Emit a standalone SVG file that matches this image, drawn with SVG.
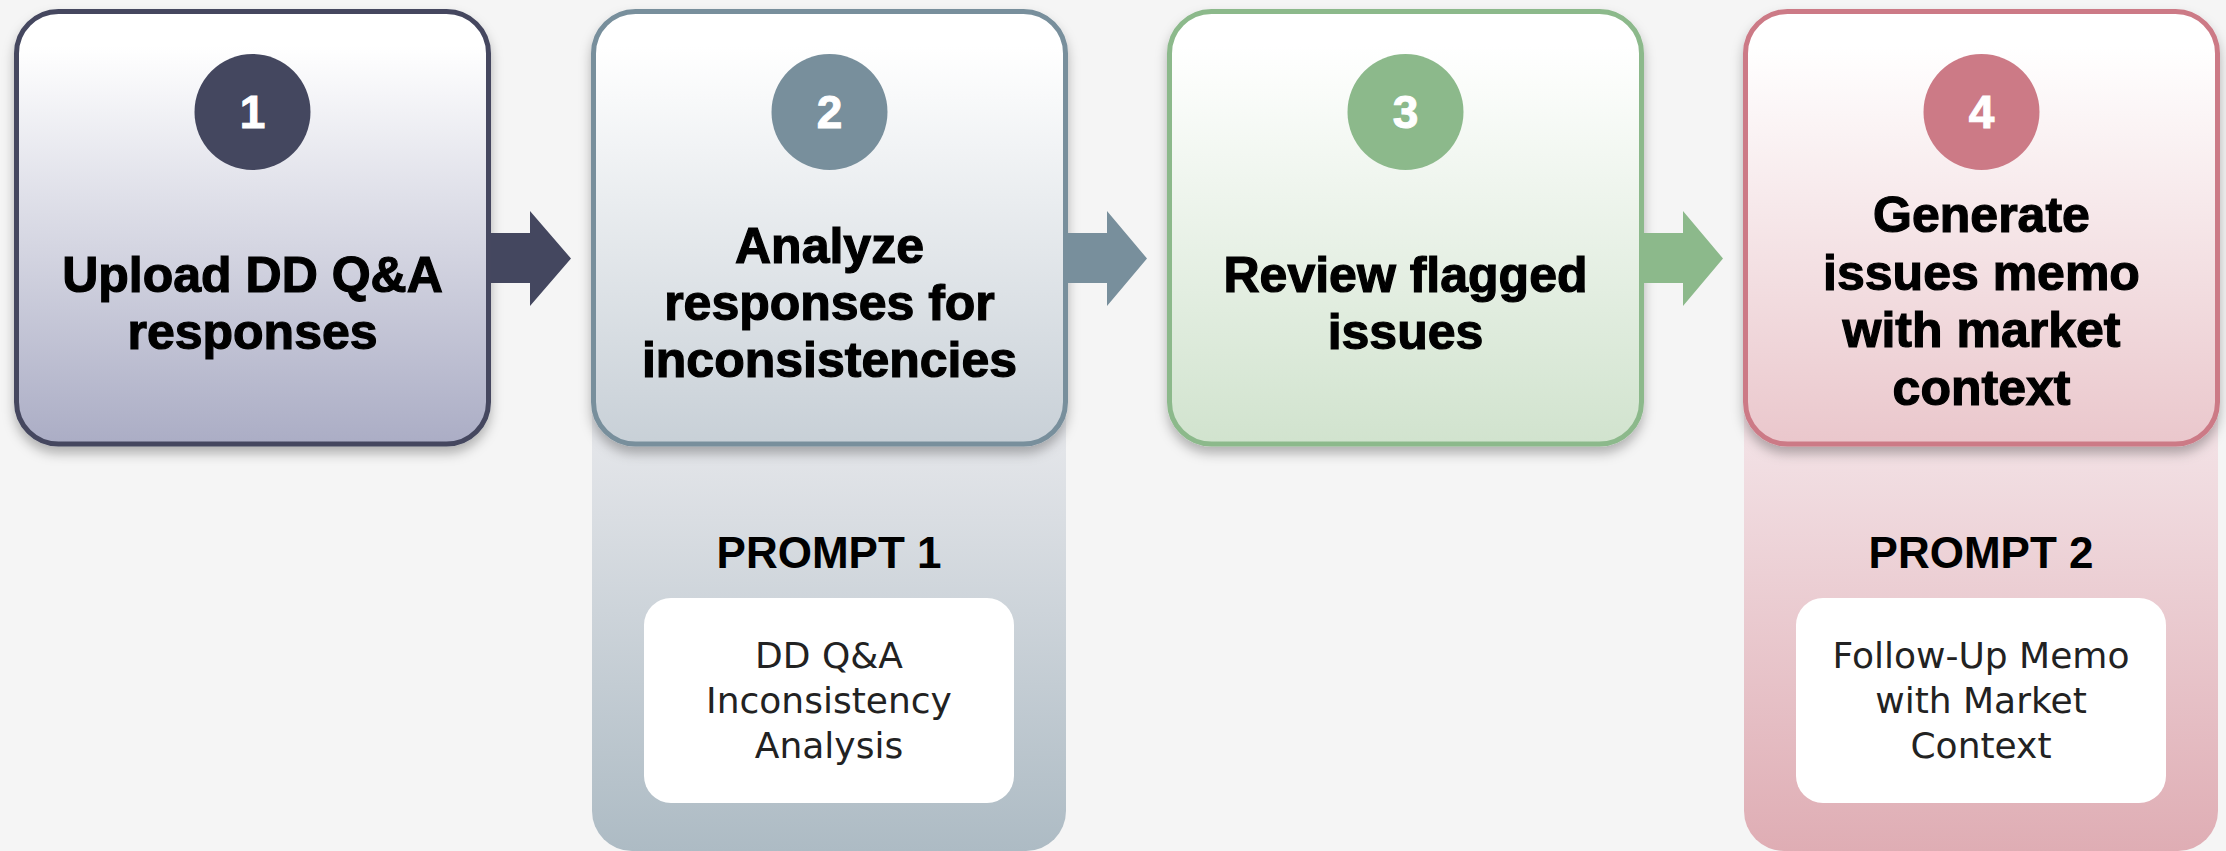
<svg xmlns="http://www.w3.org/2000/svg" width="2226" height="851" viewBox="0 0 2226 851">
<defs>
<linearGradient id="g1" x1="0" y1="0" x2="0" y2="1"><stop offset="0.08" stop-color="#ffffff"/><stop offset="1" stop-color="#abadc5"/></linearGradient>
<linearGradient id="g2" x1="0" y1="0" x2="0" y2="1"><stop offset="0.08" stop-color="#ffffff"/><stop offset="1" stop-color="#c8d0d7"/></linearGradient>
<linearGradient id="g3" x1="0" y1="0" x2="0" y2="1"><stop offset="0.08" stop-color="#ffffff"/><stop offset="1" stop-color="#d1e3ce"/></linearGradient>
<linearGradient id="g4" x1="0" y1="0" x2="0" y2="1"><stop offset="0.08" stop-color="#ffffff"/><stop offset="1" stop-color="#eac7cc"/></linearGradient>
<linearGradient id="p2" gradientUnits="userSpaceOnUse" x1="0" y1="446" x2="0" y2="851"><stop offset="0" stop-color="#e3e5e9"/><stop offset="1" stop-color="#adbbc4"/></linearGradient>
<linearGradient id="p4" gradientUnits="userSpaceOnUse" x1="0" y1="446" x2="0" y2="851"><stop offset="0" stop-color="#f2e0e4"/><stop offset="1" stop-color="#dfadb4"/></linearGradient>
<filter id="sh" x="-10%" y="-10%" width="120%" height="125%"><feDropShadow dx="0" dy="7" stdDeviation="6" flood-color="#000" flood-opacity="0.28"/></filter>
</defs>
<style>
.box{stroke-width:5}
.title{font-family:"Liberation Sans",Arial,sans-serif;font-weight:700;font-size:50px;fill:#000;stroke:#000;stroke-width:1.2px;text-anchor:middle}
.num{font-family:"Liberation Sans",Arial,sans-serif;font-weight:700;font-size:46px;fill:#fff;stroke:#fff;stroke-width:1px;text-anchor:middle}
.plabel{font-family:"Liberation Sans",Arial,sans-serif;font-weight:700;font-size:44px;fill:#000;text-anchor:middle}
.ptext{font-family:"DejaVu Sans","Liberation Sans",sans-serif;font-size:36px;fill:#222;text-anchor:middle}
</style>
<rect width="2226" height="851" fill="#f5f5f5"/>

<g id="panel2">
<path d="M592,200 H1066 V811 A40,40 0 0 1 1026,851 H632 A40,40 0 0 1 592,811 Z" fill="url(#p2)"/>
<text class="plabel" x="829" y="568">PROMPT 1</text>
<rect x="644" y="598" width="370" height="205" rx="27" fill="#ffffff"/>
<text class="ptext" x="829" y="668">DD Q&amp;A</text>
<text class="ptext" x="829" y="713">Inconsistency</text>
<text class="ptext" x="829" y="758">Analysis</text>
</g>
<g id="panel4">
<path d="M1744,200 H2218 V811 A40,40 0 0 1 2178,851 H1784 A40,40 0 0 1 1744,811 Z" fill="url(#p4)"/>
<text class="plabel" x="1981" y="568">PROMPT 2</text>
<rect x="1796" y="598" width="370" height="205" rx="27" fill="#ffffff"/>
<text class="ptext" x="1981" y="668">Follow-Up Memo</text>
<text class="ptext" x="1981" y="713">with Market</text>
<text class="ptext" x="1981" y="758">Context</text>
</g>

<g id="step1">
<rect class="box" x="16.5" y="11.5" width="472" height="432.5" rx="42" fill="url(#g1)" stroke="#44475f" filter="url(#sh)"/>
<circle cx="252.5" cy="112" r="58" fill="#44475f"/>
<text class="num" x="252.5" y="128">1</text>
<text class="title" x="252.5" y="292">Upload DD Q&amp;A</text>
<text class="title" x="252.5" y="349">responses</text>
</g>
<g id="step2">
<rect class="box" x="593.5" y="11.5" width="472" height="432.5" rx="42" fill="url(#g2)" stroke="#788f9c" filter="url(#sh)"/>
<circle cx="829.5" cy="112" r="58" fill="#788f9c"/>
<text class="num" x="829.5" y="128">2</text>
<text class="title" x="829.5" y="263">Analyze</text>
<text class="title" x="829.5" y="320">responses for</text>
<text class="title" x="829.5" y="377">inconsistencies</text>
</g>
<g id="step3">
<rect class="box" x="1169.5" y="11.5" width="472" height="432.5" rx="42" fill="url(#g3)" stroke="#8cb98b" filter="url(#sh)"/>
<circle cx="1405.5" cy="112" r="58" fill="#8cb98b"/>
<text class="num" x="1405.5" y="128">3</text>
<text class="title" x="1405.5" y="292">Review flagged</text>
<text class="title" x="1405.5" y="349">issues</text>
</g>
<g id="step4">
<rect class="box" x="1745.5" y="11.5" width="472" height="432.5" rx="42" fill="url(#g4)" stroke="#cc7a86" filter="url(#sh)"/>
<circle cx="1981.5" cy="112" r="58" fill="#cc7a86"/>
<text class="num" x="1981.5" y="128">4</text>
<text class="title" x="1981.5" y="232">Generate</text>
<text class="title" x="1981.5" y="290">issues memo</text>
<text class="title" x="1981.5" y="347">with market</text>
<text class="title" x="1981.5" y="405">context</text>
</g>

<g id="connectors">
<path d="M491,233 H530 V211 L571,258.5 L530,306 V283 H491 Z" fill="#44475f"/>
<path d="M1068,233 H1107 V211 L1147,258.5 L1107,306 V283 H1068 Z" fill="#788f9c"/>
<path d="M1644,233 H1683 V211 L1723,258.5 L1683,306 V283 H1644 Z" fill="#8cb98b"/>
</g>
</svg>
